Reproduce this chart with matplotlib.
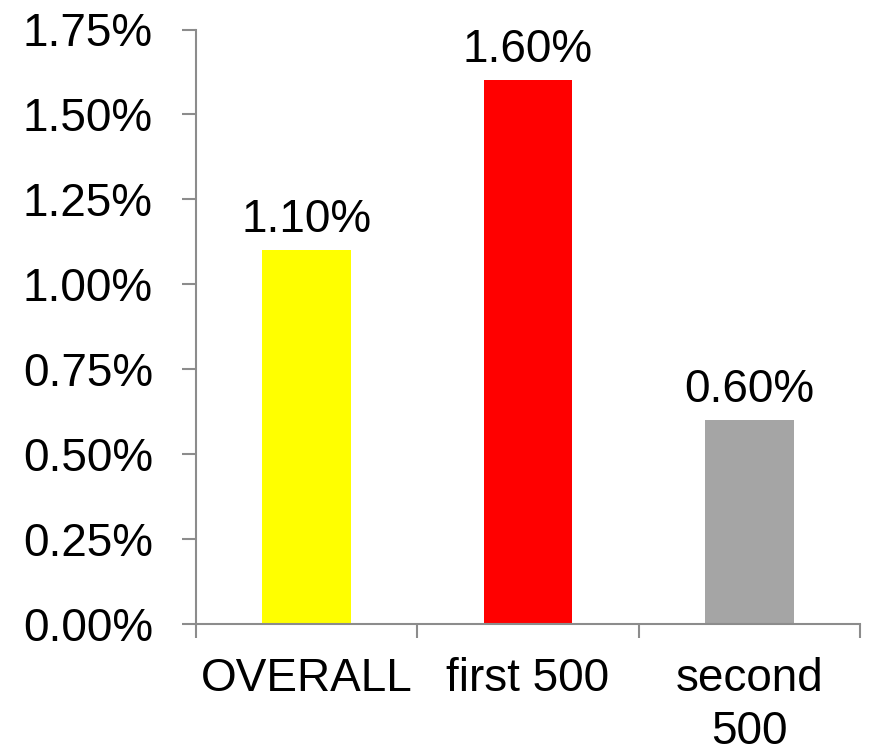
import numpy as np
import matplotlib.pyplot as plt
from matplotlib.ticker import FuncFormatter

plt.rcParams['font.family'] = ['Liberation Sans', 'DejaVu Sans']

# data
categories = ['OVERALL', 'first 500', 'second\n500']
rates = [1.10, 1.60, 0.60]
colors = ['#FFFF00', '#FF0000', '#A5A5A5']
yticks = [0.0, 0.25, 0.5, 0.75, 1.0, 1.25, 1.5, 1.75]

fig = plt.figure(figsize=(8.7, 7.56), dpi=100)
ax = fig.add_axes([196 / 870, 132 / 756, 664 / 870, 594.5 / 756])

x = np.arange(len(categories))
ax.bar(x, rates, width=0.4, color=colors, zorder=2)

for xi, v in zip(x, rates):
    ax.annotate(f'{v:.2f}%', (xi, v), xytext=(0, 13), textcoords='offset points',
                ha='center', va='baseline', fontsize=33)

ax.set_xlim(-0.5, len(categories) - 0.5)
ax.set_ylim(0, 1.75)
ax.set_yticks(yticks)
ax.yaxis.set_major_formatter(FuncFormatter(lambda v, p: f'{v:.2f}%'))

# category boundaries get the tick marks, names sit in between
ax.set_xticks(np.arange(-0.5, len(categories), 1.0))
ax.set_xticklabels([])
ax.set_xticks(x, minor=True)
ax.set_xticklabels(categories, minor=True, fontsize=33, linespacing=1.25)

axis_col = '#8C8C8C'
for s in ['top', 'right']:
    ax.spines[s].set_visible(False)
for s in ['left', 'bottom']:
    ax.spines[s].set_color(axis_col)
    ax.spines[s].set_linewidth(1.5)

ax.tick_params(axis='y', which='major', length=10, width=1.5, color=axis_col,
               labelsize=33, pad=21)
ax.tick_params(axis='x', which='major', length=10, width=1.5, color=axis_col)
ax.tick_params(axis='x', which='minor', length=0, pad=24)

plt.savefig('out.png', dpi=100)
